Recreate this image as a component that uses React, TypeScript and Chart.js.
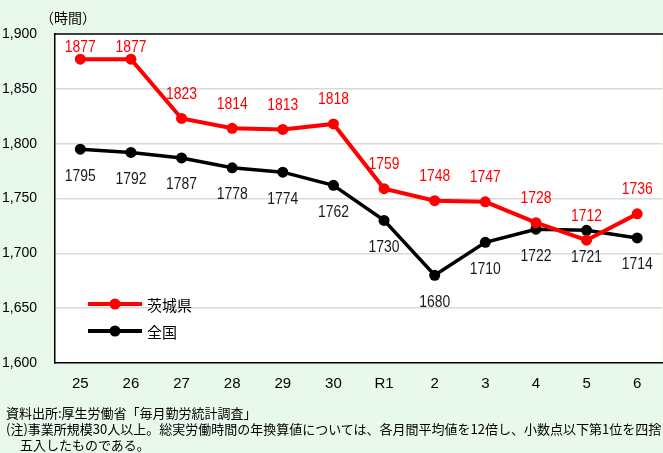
import React, { useEffect, useRef } from "react";
import { Chart, registerables } from "chart.js";

Chart.register(...registerables);

const categories = ["25", "26", "27", "28", "29", "30", "R1", "2", "3", "4", "5", "6"];
const ibarakiValues = [1877, 1877, 1823, 1814, 1813, 1818, 1759, 1748, 1747, 1728, 1712, 1736];
const nationalValues = [1795, 1792, 1787, 1778, 1774, 1762, 1730, 1680, 1710, 1722, 1721, 1714];
const seriesNames = ["茨城県", "全国"];
const unitLabel = "（時間）";
const yMin = 1600;
const yMax = 1900;
const yStep = 50;
const sourceNote = "資料出所:厚生労働省「毎月勤労統計調査」";
const note1 = "(注)事業所規模30人以上。総実労働時間の年換算値については、各月間平均値を12倍し、小数点以下第1位を四捨";
const note2 = "五入したものである。";

const RED = "#ff0000";
const BLACK = "#000000";
const BG = "rgb(232,248,235)";
const NUM_FONT = "16px 'Liberation Sans', Arial, sans-serif";
const CJK = "'Noto Sans CJK JP', sans-serif";

function drawNarrow(ctx: CanvasRenderingContext2D, text: string, x: number, y: number, sx: number) {
  ctx.save();
  ctx.translate(x, y);
  ctx.scale(sx, 1);
  ctx.fillText(text, 0, 0);
  ctx.restore();
}

const decorPlugin = {
  id: "decor",
  beforeDraw(chart: any) {
    const { ctx, chartArea } = chart;
    ctx.save();
    ctx.fillStyle = BG;
    ctx.fillRect(0, 0, chart.width, chart.height);
    ctx.fillStyle = "#ffffff";
    ctx.fillRect(chartArea.left, chartArea.top, chartArea.right - chartArea.left, chartArea.bottom - chartArea.top);
    ctx.restore();
  },
  afterDraw(chart: any) {
    const { ctx, chartArea } = chart;
    ctx.save();
    // top border
    ctx.strokeStyle = "#000";
    ctx.lineWidth = 1.5;
    ctx.beginPath();
    ctx.moveTo(chartArea.left - 0.75, chartArea.top);
    ctx.lineTo(chart.width, chartArea.top);
    ctx.stroke();

    // unit label
    ctx.fillStyle = "#000";
    ctx.font = "14px " + CJK;
    ctx.textAlign = "left";
    ctx.textBaseline = "middle";
    ctx.fillText(unitLabel, 40, 18);

    // data labels
    ctx.font = NUM_FONT;
    ctx.textAlign = "center";
    ctx.textBaseline = "middle";
    const m0 = chart.getDatasetMeta(0);
    const m1 = chart.getDatasetMeta(1);
    ctx.fillStyle = RED;
    m0.data.forEach((pt: any, i: number) => {
      const y = Math.max(pt.y - 24, 48);
      drawNarrow(ctx, String(ibarakiValues[i]), pt.x, y, 0.87);
    });
    ctx.fillStyle = "#1a1a1a";
    m1.data.forEach((pt: any, i: number) => {
      drawNarrow(ctx, String(nationalValues[i]), pt.x, pt.y + 27, 0.87);
    });

    // legend
    const items = [
      { name: seriesNames[0], color: RED, y: 304, w: 4 },
      { name: seriesNames[1], color: BLACK, y: 331, w: 4 },
    ];
    items.forEach((it) => {
      ctx.strokeStyle = it.color;
      ctx.lineWidth = it.w;
      ctx.beginPath();
      ctx.moveTo(88, it.y);
      ctx.lineTo(142, it.y);
      ctx.stroke();
      ctx.fillStyle = it.color;
      ctx.beginPath();
      ctx.arc(115, it.y, 5.5, 0, Math.PI * 2);
      ctx.fill();
      ctx.fillStyle = "#000";
      ctx.font = "15px " + CJK;
      ctx.textAlign = "left";
      ctx.textBaseline = "middle";
      ctx.fillText(it.name, 147, it.y + 1);
    });
    ctx.restore();
  },
};

export default function App() {
  const ref = useRef<HTMLCanvasElement | null>(null);
  useEffect(() => {
    if (!ref.current) return;
    const chart = new Chart(ref.current, {
      type: "line",
      data: {
        labels: categories,
        datasets: [
          {
            label: seriesNames[0],
            data: ibarakiValues,
            borderColor: RED,
            backgroundColor: RED,
            borderWidth: 4,
            pointRadius: 5.5,
            pointBorderWidth: 0,
            pointBackgroundColor: RED,
            tension: 0,
          },
          {
            label: seriesNames[1],
            data: nationalValues,
            borderColor: BLACK,
            backgroundColor: BLACK,
            borderWidth: 3.5,
            pointRadius: 5.5,
            pointBorderWidth: 0,
            pointBackgroundColor: BLACK,
            tension: 0,
          },
        ],
      },
      options: {
        animation: false,
        responsive: false,
        devicePixelRatio: 1,
        layout: { padding: { left: 0, top: 34, right: 1, bottom: 0 } },
        plugins: { legend: { display: false }, tooltip: { enabled: false } },
        scales: {
          x: {
            offset: true,
            grid: { display: false, drawTicks: false },
            border: { display: true, color: "#000", width: 1.5 },
            ticks: {
              color: "#000",
              padding: 12,
              font: { family: "'Liberation Sans', Arial, sans-serif", size: 15 },
              maxRotation: 0,
              autoSkip: false,
            },
            afterFit(scale: any) {
              scale.height = 90;
            },
          },
          y: {
            min: yMin,
            max: yMax,
            grid: {
              drawTicks: false,
              color: (c: any) => (c.tick && (c.tick.value === yMin || c.tick.value === yMax) ? "rgba(0,0,0,0)" : "rgb(217,217,217)"),
              lineWidth: 1.5,
            },
            border: { display: true, color: "#000", width: 1.5 },
            ticks: {
              stepSize: yStep,
              color: "#000",
              padding: 18,
              font: { family: "'Liberation Sans', Arial, sans-serif", size: 14 },
              callback: (v: any) => Number(v).toLocaleString("en-US"),
            },
            afterFit(scale: any) {
              scale.width = 55;
            },
          },
        },
      },
      plugins: [decorPlugin],
    });
    return () => chart.destroy();
  }, []);

  const noteStyle: React.CSSProperties = {
    position: "absolute",
    left: 6,
    fontFamily: CJK,
    fontSize: 13,
    lineHeight: "16px",
    color: "#000",
    whiteSpace: "nowrap",
  };

  return (
    <div style={{ position: "fixed", left: 0, top: 0, width: 663, height: 453, overflow: "hidden", background: BG }}>
      <canvas ref={ref} width={668} height={453} style={{ position: "absolute", left: 0, top: 0, width: 668, height: 453 }} />
      <div style={{ ...noteStyle, top: 405 }}>{sourceNote}</div>
      <div style={{ ...noteStyle, top: 421 }}>{note1}</div>
      <div style={{ ...noteStyle, top: 437, left: 20 }}>{note2}</div>
    </div>
  );
}
